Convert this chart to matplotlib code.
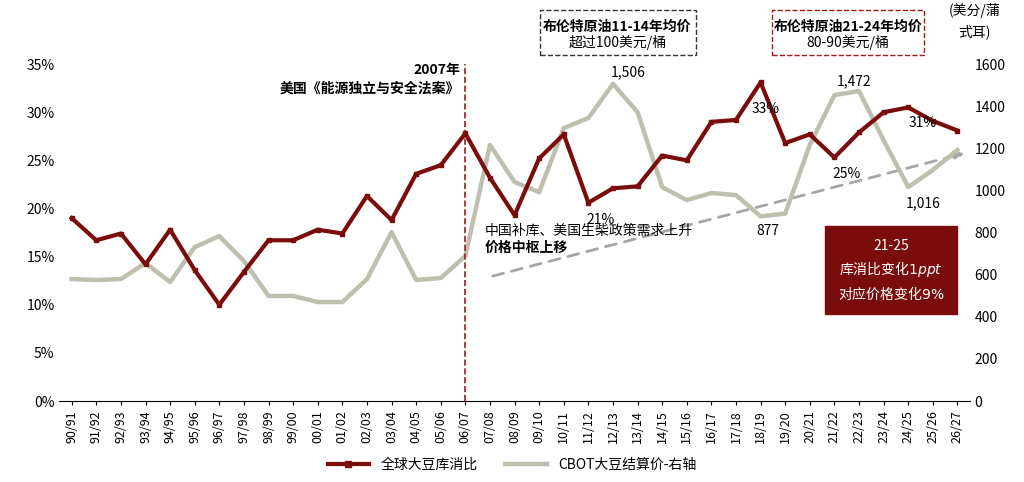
import matplotlib.pyplot as plt
from matplotlib.patches import FancyArrowPatch
from matplotlib.ticker import FuncFormatter

plt.rcParams['font.family'] = ['Noto Sans CJK SC', 'DejaVu Sans']

seasons = ['90/91', '91/92', '92/93', '93/94', '94/95', '95/96', '96/97', '97/98', '98/99', '99/00',
           '00/01', '01/02', '02/03', '03/04', '04/05', '05/06', '06/07', '07/08', '08/09', '09/10',
           '10/11', '11/12', '12/13', '13/14', '14/15', '15/16', '16/17', '17/18', '18/19', '19/20',
           '20/21', '21/22', '22/23', '23/24', '24/25', '25/26', '26/27']
stock_ratio = [19.0, 16.7, 17.4, 14.2, 17.8, 13.6, 10.0, 13.4, 16.7, 16.7,
               17.8, 17.4, 21.3, 18.8, 23.6, 24.5, 27.8, 23.2, 19.3, 25.2,
               27.7, 20.6, 22.1, 22.3, 25.5, 25.0, 29.0, 29.2, 33.1, 26.8,
               27.7, 25.3, 27.9, 30.0, 30.5, 29.1, 28.1]
cbot_price = [579, 575, 579, 655, 565, 731, 783, 665, 499, 499,
              470, 470, 579, 802, 575, 584, 689, 1216, 1040, 992,
              1296, 1344, 1506, 1372, 1016, 954, 988, 978, 877, 890,
              1216, 1453, 1472, 1239, 1016, 1097, 1192]

red = '#7b0c0c'
grey = '#bfbfb0'
x = list(range(len(seasons)))

fig = plt.figure(figsize=(10.24, 4.82), dpi=100)
ax = fig.add_axes([0.058, 0.168, 0.889, 0.699])
ax2 = ax.twinx()

ax2.plot(x, cbot_price, color=grey, lw=3.2, zorder=2)
ax.plot(x, stock_ratio, color=red, lw=3, marker='s', ms=3.5, zorder=3)
ax.set_zorder(ax2.get_zorder() + 1)
ax.patch.set_visible(False)

ax.set_xlim(-0.5, len(seasons) - 0.5)
ax.set_ylim(0, 35)
ax.set_yticks(range(0, 36, 5))
ax.yaxis.set_major_formatter(FuncFormatter(lambda v, p: f'{v:.0f}%'))
ax2.set_ylim(0, 1600)
ax2.set_yticks(range(0, 1601, 200))
ax.set_xticks(x)
ax.set_xticklabels(seasons, rotation=90, fontsize=9)
for a in (ax, ax2):
    a.tick_params(axis='y', labelsize=10, length=0)
    for s in ('top', 'right', 'left'):
        a.spines[s].set_visible(False)
ax.tick_params(axis='x', length=3)
ax2.spines['bottom'].set_visible(False)

# 2007 vertical line
ax.axvline(16, color='#a31818', ls='--', lw=1.2)
ax.text(15.8, 34.0, '2007年', ha='right', fontsize=10, fontweight='bold')
ax.text(15.8, 32.0, '美国《能源独立与安全法案》', ha='right', fontsize=10, fontweight='bold')

# data labels
ax.text(28.2, 29.9, '33%', ha='center', fontsize=10)
ax.text(21.5, 18.4, '21%', ha='center', fontsize=10)
ax.text(31.5, 23.2, '25%', ha='center', fontsize=10)
ax.text(34.6, 28.5, '31%', ha='center', fontsize=10)
ax2.text(22.6, 1540, '1,506', ha='center', fontsize=10)
ax2.text(31.8, 1500, '1,472', ha='center', fontsize=10)
ax2.text(28.3, 790, '877', ha='center', fontsize=10)
ax2.text(34.6, 920, '1,016', ha='center', fontsize=10)

# trend arrow
ax2.add_patch(FancyArrowPatch((17, 590), (36.4, 1180), arrowstyle='-|>', mutation_scale=14,
                              color='#a6a6a6', lw=2, ls=(0, (4, 3))))
ax.text(16.8, 17.3, '中国补库、美国生柴政策需求上升', fontsize=10)
ax.text(16.8, 15.5, '价格中枢上移', fontsize=10, fontweight='bold')

# red box
ax.text(33.3, 13.6, '21-25\n库消比变化$\\bf{\\it{1ppt}}$\n对应价格变化$\\bf{\\it{9\\%}}$',
        ha='center', va='center', color='white', fontsize=10, linespacing=1.4,
        bbox=dict(boxstyle='square,pad=0.9', fc=red, ec=red))

# top boxes
fig.text(0.603, 0.935, '布伦特原油11-14年均价', ha='center', fontsize=10, fontweight='bold')
fig.text(0.603, 0.902, '超过100美元/桶', ha='center', fontsize=10)
fig.patches.append(plt.Rectangle((0.527, 0.885), 0.153, 0.095, transform=fig.transFigure,
                                 fill=False, ec='#333333', ls='--', lw=1))
fig.text(0.828, 0.935, '布伦特原油21-24年均价', ha='center', fontsize=10, fontweight='bold')
fig.text(0.828, 0.902, '80-90美元/桶', ha='center', fontsize=10)
fig.patches.append(plt.Rectangle((0.754, 0.885), 0.148, 0.095, transform=fig.transFigure,
                                 fill=False, ec='#a31818', ls='--', lw=1))
fig.text(0.952, 0.925, '(美分/蒲\n式耳)', ha='center', fontsize=10, linespacing=1.5)

h1, = ax.plot([], [], color=red, lw=3, marker='s', ms=4)
h2, = ax.plot([], [], color=grey, lw=3.2)
fig.legend([h1, h2], ['全球大豆库消比', 'CBOT大豆结算价-右轴'], loc='lower center',
           bbox_to_anchor=(0.5, -0.005), ncol=2, frameon=False, fontsize=10, handlelength=3)

fig.savefig('out.png', dpi=100)
